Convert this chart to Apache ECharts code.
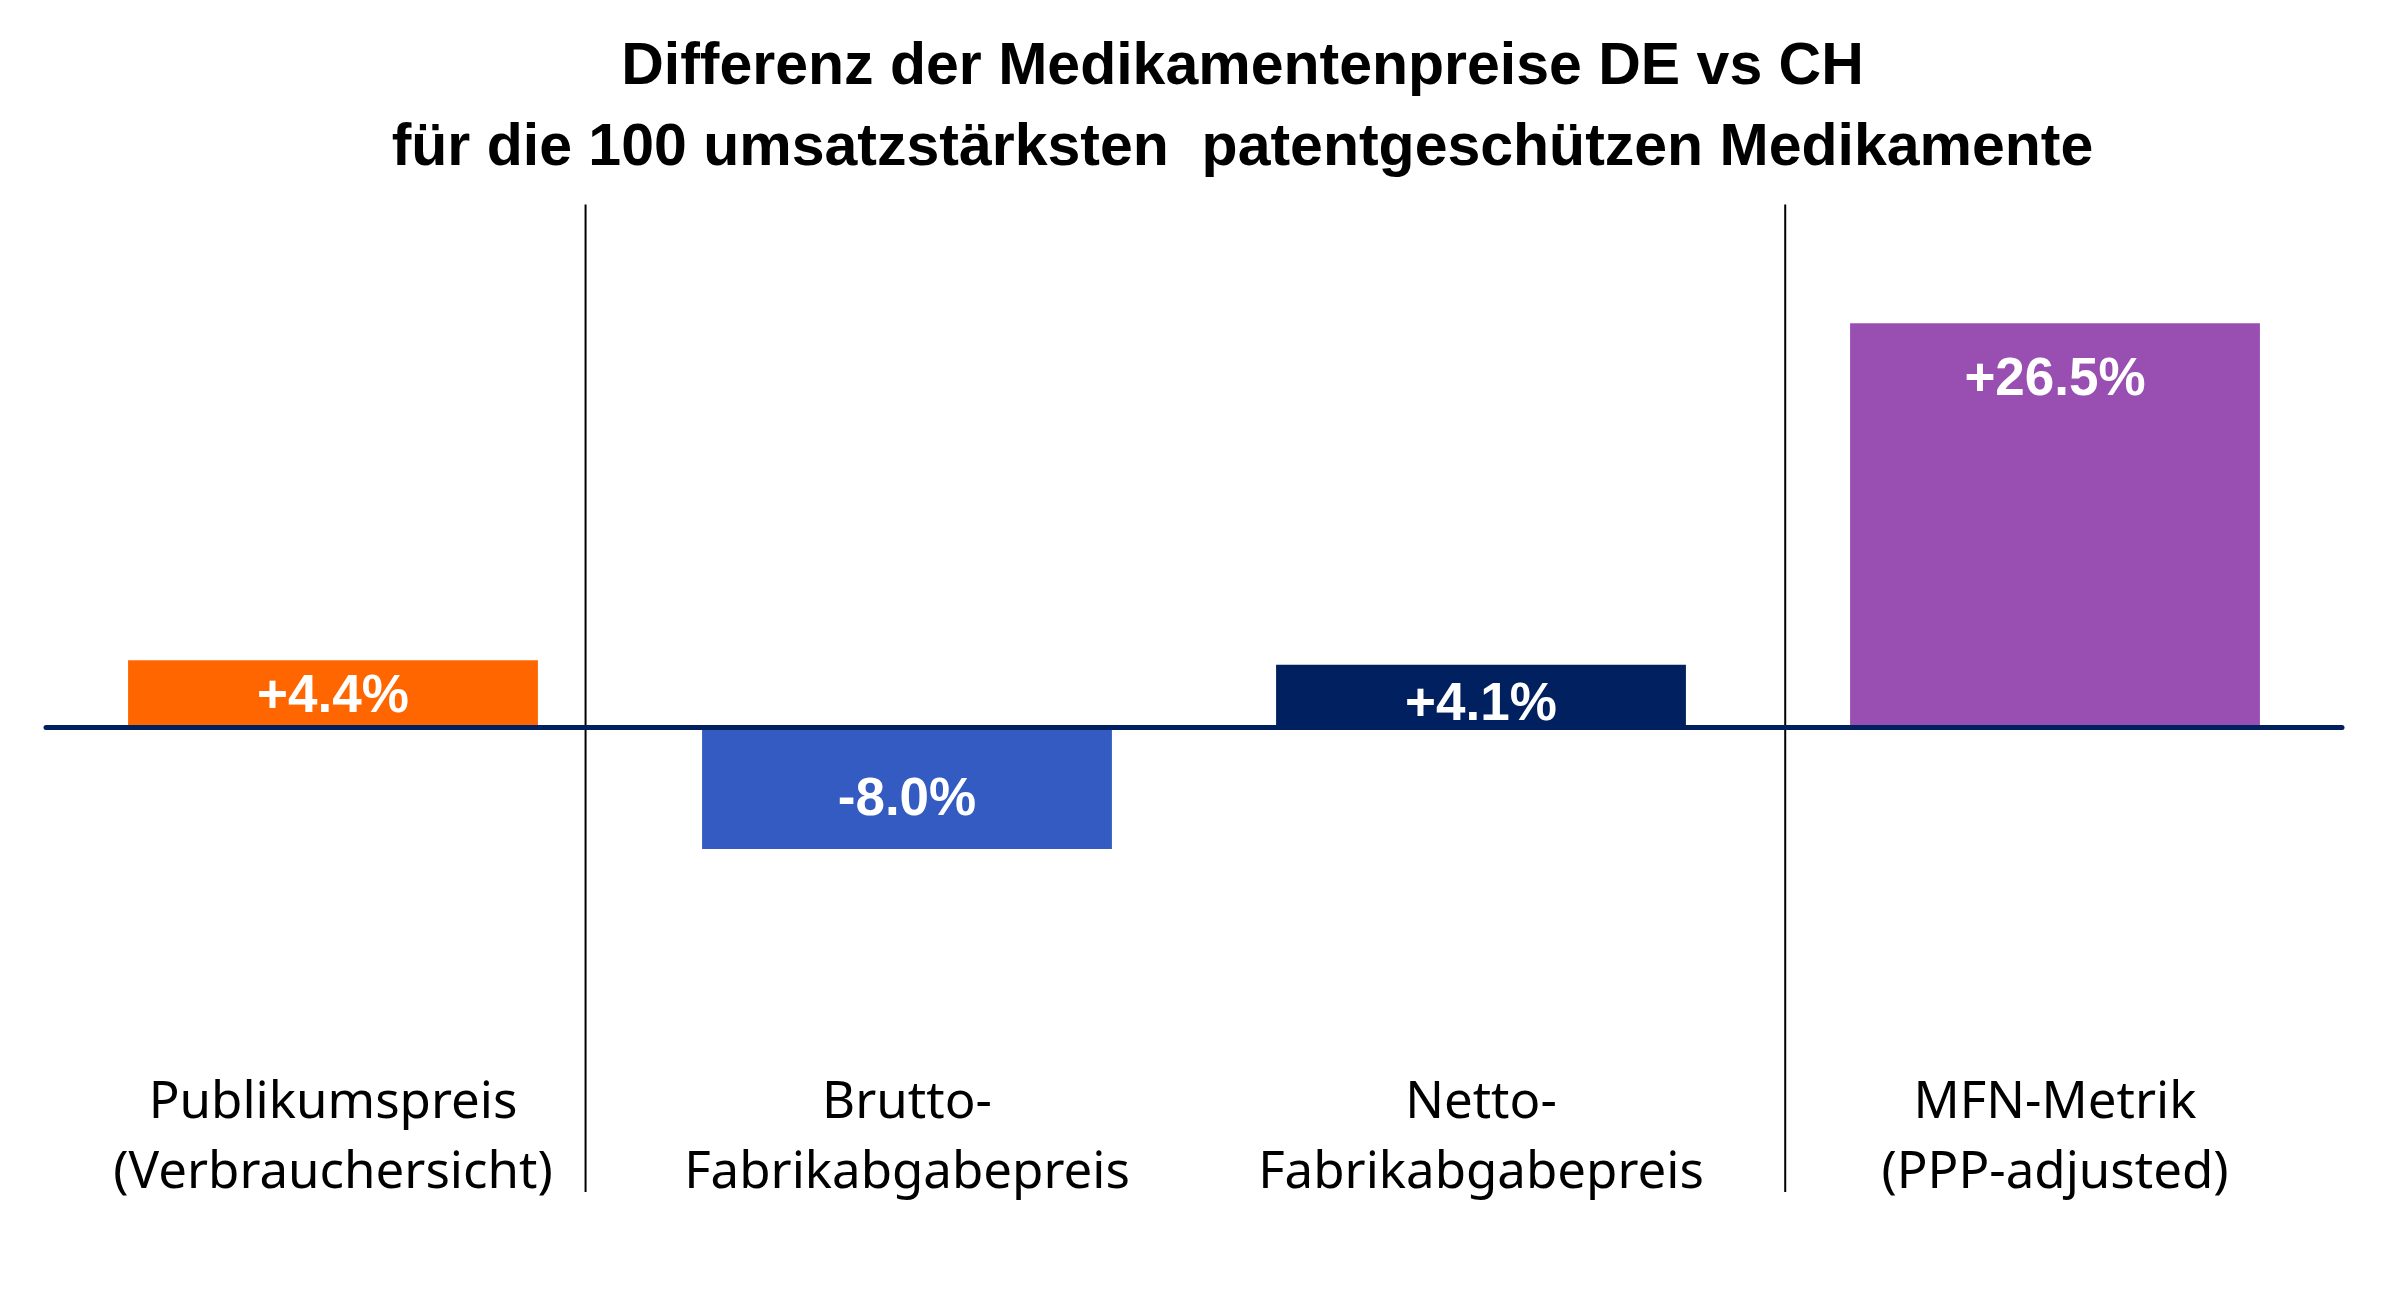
<!DOCTYPE html>
<html>
<head>
<meta charset="utf-8">
<script src="https://cdn.jsdelivr.net/npm/echarts@6/dist/echarts.min.js"></script>
<style>
html,body{margin:0;padding:0;background:#fff;}
#chart{width:2389px;height:1299px;}
</style>
</head>
<body>
<div id="chart"></div>
<script>
const titleLines = ['Differenz der Medikamentenpreise DE vs CH', 'für die 100 umsatzstärksten  patentgeschützen Medikamente'];
const categories = ['Publikumspreis\n(Verbrauchersicht)', 'Brutto-\nFabrikabgabepreis', 'Netto-\nFabrikabgabepreis', 'MFN-Metrik\n(PPP-adjusted)'];
const values = [4.4, -8.0, 4.1, 26.5];
const barColors = ['#FF6600', '#335BC1', '#002060', '#994FB2'];
const separatorPositions = [0.44, 2.53];   // in category units
const separatorRange = [34.3, -30.5];       // in value units

const chart = echarts.init(document.getElementById('chart'));

const labelPlacement = [
  { position: 'inside', offset: [0, 4] },
  { position: 'inside', offset: [0, 12] },
  { position: 'inside', offset: [0, 9] },
  { position: 'insideTop', distance: 31 }
];

const barData = values.map((v, i) => ({
  value: v,
  itemStyle: { color: barColors[i] },
  label: labelPlacement[i]
}));

const sepSeries = separatorPositions.map(p => ({
  type: 'line',
  xAxisIndex: 2,
  yAxisIndex: 0,
  data: [[p, separatorRange[0]], [p, separatorRange[1]]],
  symbol: 'none',
  clip: false,
  silent: true,
  z: 1,
  lineStyle: { color: '#000', width: 2 }
}));

chart.setOption({
  animation: false,
  backgroundColor: '#fff',
  title: {
    text: titleLines.join('\n'),
    left: '51.8%',
    textAlign: 'center',
    top: 22,
    textStyle: {
      fontFamily: 'Liberation Sans',
      fontWeight: 'bold',
      fontSize: 59,
      lineHeight: 81,
      color: '#000'
    }
  },
  grid: { left: 46, right: 47, top: 270, bottom: 267, containLabel: false },
  xAxis: [
    {
      type: 'category',
      data: categories,
      axisLine: { onZero: true, lineStyle: { color: '#002060', width: 5 } },
      axisTick: { show: false },
      axisLabel: { show: false },
      z: 5
    },
    {
      type: 'category',
      data: categories,
      position: 'bottom',
      axisLine: { show: false },
      axisTick: { show: false },
      axisLabel: {
        interval: 0,
        hideOverlap: false,
        margin: 36,
        fontFamily: 'Noto Sans',
        fontSize: 51,
        lineHeight: 70,
        color: '#000'
      }
    },
    {
      type: 'value',
      min: -0.5,
      max: 3.5,
      show: false
    }
  ],
  yAxis: {
    type: 'value',
    min: -20,
    max: 30,
    show: false,
    splitLine: { show: false }
  },
  series: [
    {
      type: 'bar',
      xAxisIndex: 0,
      data: barData,
      barCategoryGap: '28.6%',
      z: 2,
      label: {
        show: true,
        color: '#fff',
        fontFamily: 'Liberation Sans',
        fontWeight: 'bold',
        fontSize: 53,
        formatter: p => (p.value > 0 ? '+' : '') + p.value.toFixed(1) + '%'
      }
    },
    ...sepSeries
  ]
});
</script>
</body>
</html>
